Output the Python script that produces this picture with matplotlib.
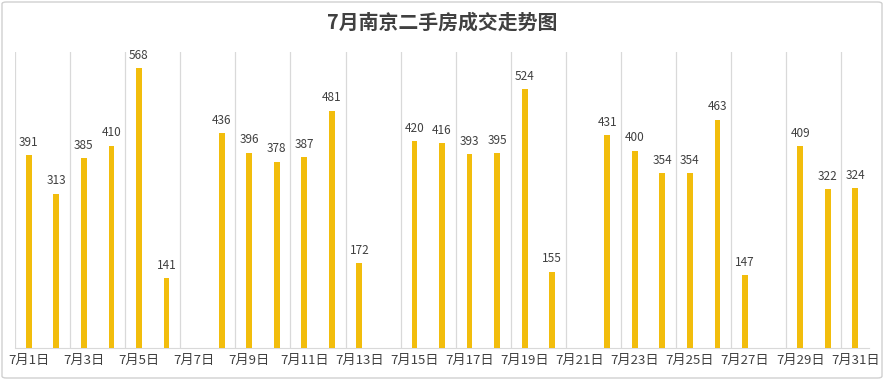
import matplotlib
matplotlib.use("Agg")
import matplotlib.pyplot as plt
from matplotlib.patches import FancyBboxPatch
import numpy as np

plt.rcParams['font.family'] = ['Noto Sans CJK SC', 'DejaVu Sans']

days = [f"7月{d}日" for d in range(1, 32)]
values = [391, 313, 385, 410, 568, 141, None, 436, 396, 378, 387, 481, 172, None,
          420, 416, 393, 395, 524, 155, None, 431, 400, 354, 354, 463, 147, None,
          409, 322, 324]
title = "7月南京二手房成交走势图"

fig = plt.figure(figsize=(8.85, 3.88), dpi=100)
ax = fig.add_axes([15/885, 1 - 348/388, (869-15)/885, (348-52)/388])

x = np.arange(len(days))
for i, v in enumerate(values):
    if v is None:
        continue
    ax.bar(i, v, width=0.21, color='#F2BD0C', zorder=3)
    ax.annotate(str(v), (i, v), xytext=(0, 4.5), textcoords='offset points',
                ha='center', va='bottom', fontsize=8.5, color='#404040')

ax.set_xlim(-0.5, len(days) - 0.5)
ax.set_ylim(0, 600)
for b in np.arange(-0.5, len(days) - 0.5, 2):
    ax.axvline(b, color='#D9D9D9', lw=0.9, zorder=1)

ax.set_xticks(x[::2])
ax.set_xticklabels(days[::2], fontsize=9.5, color='#404040')
ax.tick_params(axis='x', length=0, pad=4)
ax.set_yticks([])
for s in ['top', 'left', 'right']:
    ax.spines[s].set_visible(False)
ax.spines['bottom'].set_color('#D9D9D9')

fig.text(0.5, 1 - 22/388, title, ha='center', va='center', fontsize=14.3,
         fontweight='bold', color='#404040')

border = FancyBboxPatch((2/885, 10/388), 880/885, 376/388,
                        boxstyle="round,pad=0,rounding_size=0.005",
                        transform=fig.transFigure, fill=False,
                        edgecolor='#D0D0D0', lw=1)
fig.patches.append(border)

fig.savefig("out.png", dpi=100)
